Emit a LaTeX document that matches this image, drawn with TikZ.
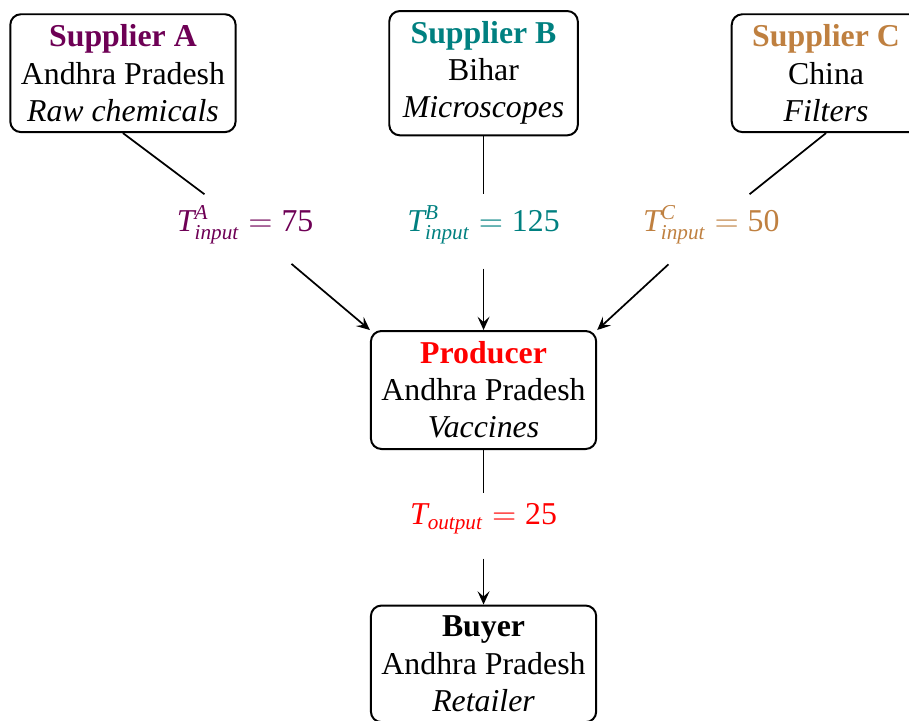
\documentclass[tikz,border=0pt]{standalone}
\usepackage{fontspec}
\setmainfont{Liberation Serif}
\usepackage{amsmath}
\usetikzlibrary{arrows.meta, positioning}
\definecolor{supplierA}{RGB}{110, 0, 85}
\definecolor{supplierB}{RGB}{0, 128, 128}
\definecolor{supplierC}{RGB}{191, 128, 64}
\definecolor{prodred}{RGB}{255, 0, 0}

\begin{document}
\begin{tikzpicture}[
  mbox/.style={draw, line width=0.75pt, rounded corners=4pt, minimum width=2.5cm, align=center, inner sep=4pt, font=\fontsize{12}{14}\selectfont},
  flow/.style={font=\fontsize{12}{14}\selectfont, inner sep=4pt},
  link/.style={line width=0.65pt},
  feed/.style={line width=0.65pt, -{Stealth[length=5pt, width=4.5pt, inset=2pt]}, shorten <=5pt}
]
  \useasboundingbox (-6.41, -4.38) rectangle (5.64, 5.17);

  % Suppliers
  \node[mbox] (sa) at (-4.78, 4.20) {\textbf{\color{supplierA}Supplier A}\\Andhra Pradesh\\\textit{Raw chemicals}};
  \node[mbox] (sb) at (0, 4.20) {\textbf{\color{supplierB}Supplier B}\\Bihar\\\textit{Microscopes}};
  \node[mbox] (sc) at (4.54, 4.20) {\textbf{\color{supplierC}Supplier C}\\China\\\textit{Filters}};

  % Producer and buyer
  \node[mbox] (prod) at (0, 0) {\textbf{\color{prodred}Producer}\\Andhra Pradesh\\\textit{Vaccines}};
  \node[mbox] (buyer) at (0, -3.63) {\textbf{Buyer}\\Andhra Pradesh\\\textit{Retailer}};

  % Flow labels
  \node[flow, text=supplierA] (ta) at (-3.16, 2.19) {$\textit{T}^{\textit{A}}_{\textit{input}} = \text{75}$};
  \node[flow, text=supplierB] (tb) at (0, 2.19) {$\textit{T}^{\textit{B}}_{\textit{input}} = \text{125}$};
  \node[flow, text=supplierC] (tc) at (3.02, 2.19) {$\textit{T}^{\textit{C}}_{\textit{input}} = \text{50}$};
  \node[flow, text=prodred] (tout) at (0, -1.71) {$\textit{T}_{\textit{output}} = \text{25}$};

  \draw[link] (sa.south) -- (ta);
  \draw[feed] (ta) -- (prod.north west);
  \draw[link] (sb) -- (tb);
  \draw[feed] (tb) -- (prod);
  \draw[link] (sc.south) -- (tc);
  \draw[feed] (tc) -- (prod.north east);
  \draw[link] (prod) -- (tout);
  \draw[feed] (tout) -- (buyer);
\end{tikzpicture}
\end{document}
